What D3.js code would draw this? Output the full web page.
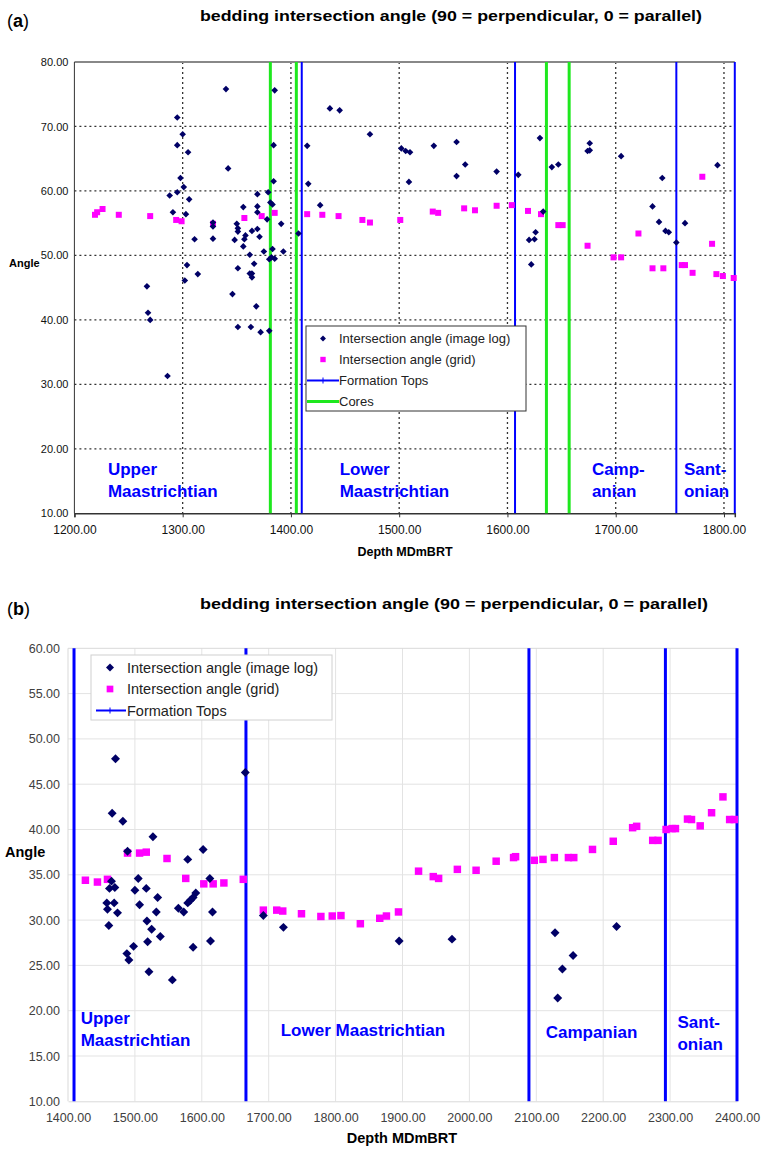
<!DOCTYPE html>
<html>
<head>
<meta charset="utf-8">
<script src="https://cdn.jsdelivr.net/npm/d3@7"></script>
<style>
  body { margin: 0; background: #fff; }
  svg { font-family: "Liberation Sans", Arial, sans-serif; }
</style>
</head>
<body>
<div id="chart"></div>
<script>
// ---- panel (a) ----
const imageLogA = [
  [1340,75.8],[1385,75.6],[1295,71.4],[1300,68.8],[1295,67.1],[1305,66.0],[1384,67.1],[1415,67.0],
  [1342,63.5],[1384,61.5],[1416,61.1],[1298,62.0],[1301,60.6],[1295,59.8],[1288,59.3],[1306,58.7],
  [1369,59.5],[1379,59.8],[1381,58.2],[1383,57.9],[1356,57.5],[1369,57.6],[1369,56.7],[1291,56.7],
  [1303,56.4],[1378,55.6],[1391,54.9],[1328,55.1],[1328,54.5],[1350,54.9],[1351,54.2],[1351,53.7],
  [1358,53.1],[1364,53.8],[1369,54.1],[1371,52.9],[1348,52.4],[1357,52.5],[1311,52.5],[1328,52.6],
  [1407,53.4],[1356,51.4],[1362,50.1],[1375,50.6],[1383,51.0],[1380,49.4],[1382,49.7],[1385,49.5],
  [1393,50.6],[1304,48.5],[1351,48.0],[1366,48.7],[1362,47.2],[1364,47.2],[1364,46.6],[1314,47.1],
  [1302,46.1],[1267,45.2],[1346,44.0],[1268,41.1],[1270,40.0],[1368,42.1],[1351,38.9],[1363,38.9],
  [1372,38.1],[1380,38.3],[1286,31.3],
  [1436,72.8],[1445,72.5],[1473,68.8],[1502,66.6],[1506,66.2],[1510,66.0],[1509,61.4],[1532,67.0],
  [1553,67.6],[1561,64.1],[1553,62.3],[1590,63.0],[1427,57.8],
  [1610,62.5],[1630,68.2],[1641,63.7],[1647,64.1],[1676,67.4],[1674,66.2],[1676,66.3],[1705,65.4],
  [1633,56.8],[1626,53.6],[1620,52.4],[1625,52.5],[1622,48.6],[1794,64.0],[1743,62.0],[1734,57.6],
  [1740,55.2],[1746,53.8],[1749,53.6],[1764,55.0],[1756,52.0]
];
const gridA = [
  [1219,56.3],[1221,56.7],[1226,57.2],[1241,56.3],[1270,56.1],[1294,55.5],[1299,55.3],[1328,54.9],
  [1357,55.8],[1373,56.1],[1385,56.6],[1415,56.4],[1429,56.3],[1444,56.1],[1466,55.5],[1473,55.1],
  [1501,55.5],[1531,56.8],[1536,56.6],[1560,57.3],[1570,57.0],[1590,57.7],[1604,57.8],[1619,56.9],
  [1631,56.4],[1647,54.7],[1651,54.7],[1674,51.5],[1698,49.7],[1705,49.7],[1721,53.4],[1734,48.0],
  [1744,48.0],[1761,48.5],[1764,48.5],[1771,47.3],[1780,62.2],[1789,51.8],[1793,47.1],[1799,46.8],
  [1809,46.5]
];
const topsA = [1410, 1607, 1756, 1810];
const coresA = [1381, 1405, 1636, 1657];
const xTicksA = [1200, 1300, 1400, 1500, 1600, 1700, 1800];
const yTicksA = [10, 20, 30, 40, 50, 60, 70, 80];
const stagesA = [
  { depth: 1231, lines: ["Upper", "Maastrichtian"], y: 15.9 },
  { depth: 1445, lines: ["Lower", "Maastrichtian"], y: 15.9 },
  { depth: 1678, lines: ["Camp-", "anian"], y: 15.9 },
  { depth: 1763, lines: ["Sant-", "onian"], y: 15.9 }
];

// ---- panel (b) ----
const imageLogB = [
  [1471,47.8],[1665,46.3],[1466,41.8],[1482,40.9],[1527,39.2],[1602,37.8],[1579,36.7],[1489,37.6],
  [1505,34.6],[1465,34.3],[1462,33.5],[1470,33.6],[1500,33.3],[1517,33.5],[1534,32.5],[1458,31.9],
  [1459,31.2],[1469,31.9],[1474,30.8],[1507,31.7],[1532,30.9],[1461,29.4],[1518,29.9],[1525,29.0],
  [1538,28.2],[1519,27.6],[1498,27.1],[1488,26.3],[1491,25.6],[1521,24.3],[1556,23.4],[1565,31.3],
  [1573,30.9],[1579,31.9],[1583,32.2],[1587,32.5],[1591,33.0],[1616,30.9],[1613,27.7],[1587,27.0],
  [1612,34.6],[1692,30.5],[1722,29.2],[1895,27.7],[1974,27.9],[2128,28.6],[2220,29.3],[2155,26.1],
  [2139,24.6],[2132,21.4]
];
const gridB = [
  [1426,34.4],[1444,34.2],[1459,34.5],[1489,37.4],[1507,37.4],[1517,37.5],[1548,36.8],[1576,34.6],
  [1603,34.0],[1617,34.0],[1633,34.1],[1662,34.5],[1692,31.1],[1712,31.1],[1721,31.0],[1749,30.7],
  [1778,30.4],[1795,30.45],[1808,30.5],[1837,29.6],[1866,30.2],[1876,30.45],[1894,30.9],[1924,35.4],
  [1946,34.8],[1954,34.6],[1982,35.6],[2010,35.5],[2040,36.5],[2066,36.9],[2069,37.0],[2097,36.6],
  [2110,36.7],[2127,36.9],[2148,36.9],[2156,36.9],[2184,37.8],[2215,38.7],[2244,40.2],[2250,40.35],
  [2274,38.8],[2282,38.8],[2294,40.0],[2303,40.1],[2308,40.1],[2326,41.15],[2332,41.1],[2345,40.4],
  [2362,41.85],[2379,43.6],[2389,41.1],[2396,41.1]
];
const topsB = [1409, 1666, 2089, 2293, 2400];
const xTicksB = [1400, 1500, 1600, 1700, 1800, 1900, 2000, 2100, 2200, 2300, 2400];
const yTicksB = [10, 15, 20, 25, 30, 35, 40, 45, 50, 55, 60];
const stagesB = [
  { depth: 1419, lines: ["Upper", "Maastrichtian"], y: 18.5 },
  { depth: 1718, lines: ["Lower Maastrichtian"], y: 17.2 },
  { depth: 2114, lines: ["Campanian"], y: 17.0 },
  { depth: 2311, lines: ["Sant-", "onian"], y: 18.1 }
];

const titleText = "bedding intersection angle (90 = perpendicular, 0 = parallel)";
const legendLabels = ["Intersection angle (image log)", "Intersection angle (grid)", "Formation Tops", "Cores"];

const NAVY = "#000066", MAGENTA = "#ff00ff", BLUE = "#0000ff", GREEN = "#1ee81e";

const svg = d3.select("#chart").append("svg")
    .attr("width", 761)
    .attr("height", 1149);

class AnglePanel {

  constructor(_config) {
    this.config = _config;
    this.initVis();
  }

  initVis() {
    let vis = this;
    let c = vis.config;

    vis.g = svg.append("g");

    vis.xScale = d3.scaleLinear().domain(c.xDomain).range([c.left, c.right]);
    vis.yScale = d3.scaleLinear().domain(c.yDomain).range([c.bottom, c.top]);

    // panel letter + title
    let letter = vis.g.append("text")
        .attr("x", 7).attr("y", c.titleY + 6)
        .attr("font-size", 18).attr("fill", "#000");
    letter.append("tspan").text("(");
    letter.append("tspan").attr("font-weight", "bold").text(c.letter);
    letter.append("tspan").text(")");

    vis.g.append("text")
        .attr("x", c.titleX).attr("y", c.titleY)
        .attr("font-size", 15).attr("font-weight", "bold")
        .attr("textLength", c.titleW).attr("lengthAdjust", "spacingAndGlyphs")
        .text(titleText);

    vis.updateVis();
  }

  updateVis() {
    let vis = this;
    let c = vis.config;

    // gridlines
    vis.g.append("g").selectAll("line.hgrid")
      .data(c.yTicks.filter(d => d > c.yDomain[0] && d < c.yDomain[1]))
      .join("line")
        .attr("x1", c.left).attr("x2", c.right)
        .attr("y1", d => vis.yScale(d)).attr("y2", d => vis.yScale(d))
        .attr("stroke", c.gridColor).attr("stroke-width", c.gridWidth)
        .attr("stroke-dasharray", c.gridDash);

    vis.g.append("g").selectAll("line.vgrid")
      .data(c.xTicks.filter(d => d > c.xDomain[0]))
      .join("line")
        .attr("x1", d => vis.xScale(d)).attr("x2", d => vis.xScale(d))
        .attr("y1", c.top).attr("y2", c.bottom)
        .attr("stroke", c.gridColor).attr("stroke-width", c.gridWidth)
        .attr("stroke-dasharray", c.gridDash);

    // frame
    vis.g.append("line")
        .attr("x1", c.left).attr("x2", c.right).attr("y1", c.top).attr("y2", c.top)
        .attr("stroke", c.topColor).attr("stroke-width", c.topWidth);
    vis.g.append("line")
        .attr("x1", c.left).attr("x2", c.left).attr("y1", c.top).attr("y2", c.bottom)
        .attr("stroke", c.axisColor).attr("stroke-width", 1);

    // axes
    let xAxis = d3.axisBottom(vis.xScale)
        .tickValues(c.xTicks)
        .tickFormat(d3.format(".2f"))
        .tickSize(c.tickSize).tickPadding(c.tickPad);
    let xg = vis.g.append("g")
        .attr("transform", `translate(0,${c.bottom})`)
        .call(xAxis);
    xg.select(".domain").attr("stroke", c.axisColor).attr("stroke-width", c.axisWidth);
    xg.selectAll(".tick line").attr("stroke", c.axisColor);
    xg.selectAll("text").attr("font-size", c.tickFont).attr("fill", c.tickColor)
        .attr("font-family", "Liberation Sans, Arial, sans-serif");

    let yAxis = d3.axisLeft(vis.yScale)
        .tickValues(c.yTicks)
        .tickFormat(d3.format(".2f"))
        .tickSize(0).tickPadding(c.yPad);
    let yg = vis.g.append("g")
        .attr("transform", `translate(${c.left},0)`)
        .call(yAxis);
    yg.select(".domain").remove();
    yg.selectAll("text").attr("font-size", c.yFont).attr("fill", c.tickColor)
        .attr("font-family", "Liberation Sans, Arial, sans-serif");

    // axis titles
    vis.g.append("text")
        .attr("x", c.angleX).attr("y", c.angleY)
        .attr("font-size", c.angleFont).attr("font-weight", "bold")
        .text("Angle");
    vis.g.append("text")
        .attr("x", c.depthX).attr("y", c.depthY)
        .attr("text-anchor", "middle")
        .attr("font-size", c.axisTitleFont).attr("font-weight", "bold")
        .text("Depth MDmBRT");

    // cores and formation tops
    vis.g.append("g").selectAll("line")
      .data(c.cores)
      .join("line")
        .attr("x1", d => vis.xScale(d)).attr("x2", d => vis.xScale(d))
        .attr("y1", c.top).attr("y2", c.bottom)
        .attr("stroke", GREEN).attr("stroke-width", 3);

    vis.g.append("g").selectAll("line")
      .data(c.tops)
      .join("line")
        .attr("x1", d => vis.xScale(d)).attr("x2", d => vis.xScale(d))
        .attr("y1", c.top).attr("y2", c.bottom)
        .attr("stroke", BLUE).attr("stroke-width", c.topsWidth);

    // stage names
    vis.g.append("g").selectAll("text")
      .data(c.stages)
      .join("text")
        .attr("x", d => vis.xScale(d.depth))
        .attr("y", d => vis.yScale(d.y))
        .attr("font-size", 17).attr("font-weight", "bold").attr("fill", BLUE)
        .each(function(d) {
          d3.select(this).selectAll("tspan")
            .data(d.lines)
            .join("tspan")
              .attr("x", vis.xScale(d.depth))
              .attr("dy", (l, i) => i === 0 ? 0 : 22)
              .text(l => l);
        });

    // grid points (squares)
    vis.g.append("g").selectAll("path")
      .data(c.grid)
      .join("path")
        .attr("d", d3.symbol(d3.symbolSquare, c.squareSize))
        .attr("transform", d => `translate(${vis.xScale(d[0])},${vis.yScale(d[1])})`)
        .attr("fill", MAGENTA);

    // image log points (diamonds)
    vis.g.append("g").selectAll("path")
      .data(c.imageLog)
      .join("path")
        .attr("d", d3.symbol(d3.symbolSquare, c.diamondSize))
        .attr("transform", d => `translate(${vis.xScale(d[0])},${vis.yScale(d[1])}) rotate(45)`)
        .attr("fill", NAVY);

    vis.drawLegend();
  }

  drawLegend() {
    let vis = this;
    let c = vis.config;
    let L = c.legend;

    let lg = vis.g.append("g").attr("transform", `translate(${L.x},${L.y})`);
    lg.append("rect")
        .attr("width", L.w).attr("height", L.h)
        .attr("fill", "#fff").attr("stroke", L.stroke).attr("stroke-width", 1);

    let items = legendLabels.slice(0, L.n);
    let row = lg.selectAll("g.item")
      .data(items)
      .join("g")
        .attr("transform", (d, i) => `translate(0,${L.first + i * L.step})`);

    row.append("text")
        .attr("x", L.textX).attr("dy", "0.35em")
        .attr("font-size", L.font).attr("fill", L.color)
        .text(d => d);

    row.filter((d, i) => i === 0).append("path")
        .attr("d", d3.symbol(d3.symbolSquare, c.diamondSize * 0.8))
        .attr("transform", `translate(${L.symX},0) rotate(45)`)
        .attr("fill", NAVY);
    row.filter((d, i) => i === 1).append("path")
        .attr("d", d3.symbol(d3.symbolSquare, c.squareSize * 0.8))
        .attr("transform", `translate(${L.symX},0)`)
        .attr("fill", MAGENTA);
    let topRow = row.filter((d, i) => i === 2);
    topRow.append("line")
        .attr("x1", L.lineX0).attr("x2", L.lineX1)
        .attr("stroke", BLUE).attr("stroke-width", 2);
    topRow.append("line")
        .attr("x1", L.symX).attr("x2", L.symX).attr("y1", -3).attr("y2", 3)
        .attr("stroke", BLUE).attr("stroke-width", 1);
    row.filter((d, i) => i === 3).append("line")
        .attr("x1", L.lineX0).attr("x2", L.lineX1)
        .attr("stroke", GREEN).attr("stroke-width", 3);
  }
}

new AnglePanel({
  letter: "a", titleX: 200, titleY: 21, titleW: 502,
  left: 74.4, right: 734.8, top: 62, bottom: 513.3,
  xDomain: [1200, 1810], yDomain: [10, 80],
  xTicks: xTicksA, yTicks: yTicksA,
  gridColor: "#333", gridWidth: 1.3, gridDash: "2,3",
  topColor: "#888", topWidth: 2, axisColor: "#333", axisWidth: 1.5,
  tickSize: 4, tickPad: 8, yPad: 6, tickFont: 12, yFont: 11, tickColor: "#111",
  axisTitleFont: 12.5, angleFont: 11, angleX: 9, angleY: 267, depthX: 405, depthY: 556,
  imageLog: imageLogA, grid: gridA, tops: topsA, cores: coresA, topsWidth: 2,
  stages: stagesA,
  diamondSize: 22, squareSize: 36,
  legend: { x: 306, y: 326, w: 220, h: 85, n: 4, first: 12.5, step: 21,
            textX: 33, symX: 17, lineX0: 1, lineX1: 33, font: 13, color: "#222", stroke: "#333" }
});

new AnglePanel({
  letter: "b", titleX: 200, titleY: 609, titleW: 508,
  left: 68, right: 737, top: 648.3, bottom: 1101.3,
  xDomain: [1400, 2400], yDomain: [10, 60],
  xTicks: xTicksB, yTicks: yTicksB,
  gridColor: "#e3e3e3", gridWidth: 1, gridDash: null,
  topColor: "#d9d9d9", topWidth: 1, axisColor: "#d9d9d9", axisWidth: 1,
  tickSize: 0, tickPad: 12, yPad: 8, tickFont: 12.5, yFont: 12.5, tickColor: "#404040",
  axisTitleFont: 14.5, angleFont: 14.5, angleX: 5, angleY: 857, depthX: 402, depthY: 1143,
  imageLog: imageLogB, grid: gridB, tops: topsB, cores: [], topsWidth: 3,
  stages: stagesB,
  diamondSize: 40, squareSize: 56,
  legend: { x: 91, y: 655, w: 241, h: 65, n: 3, first: 12.5, step: 21.5,
            textX: 36, symX: 19, lineX0: 5, lineX1: 35, font: 14.5, color: "#222", stroke: "#d0d0d0" }
});
</script>
</body>
</html>
